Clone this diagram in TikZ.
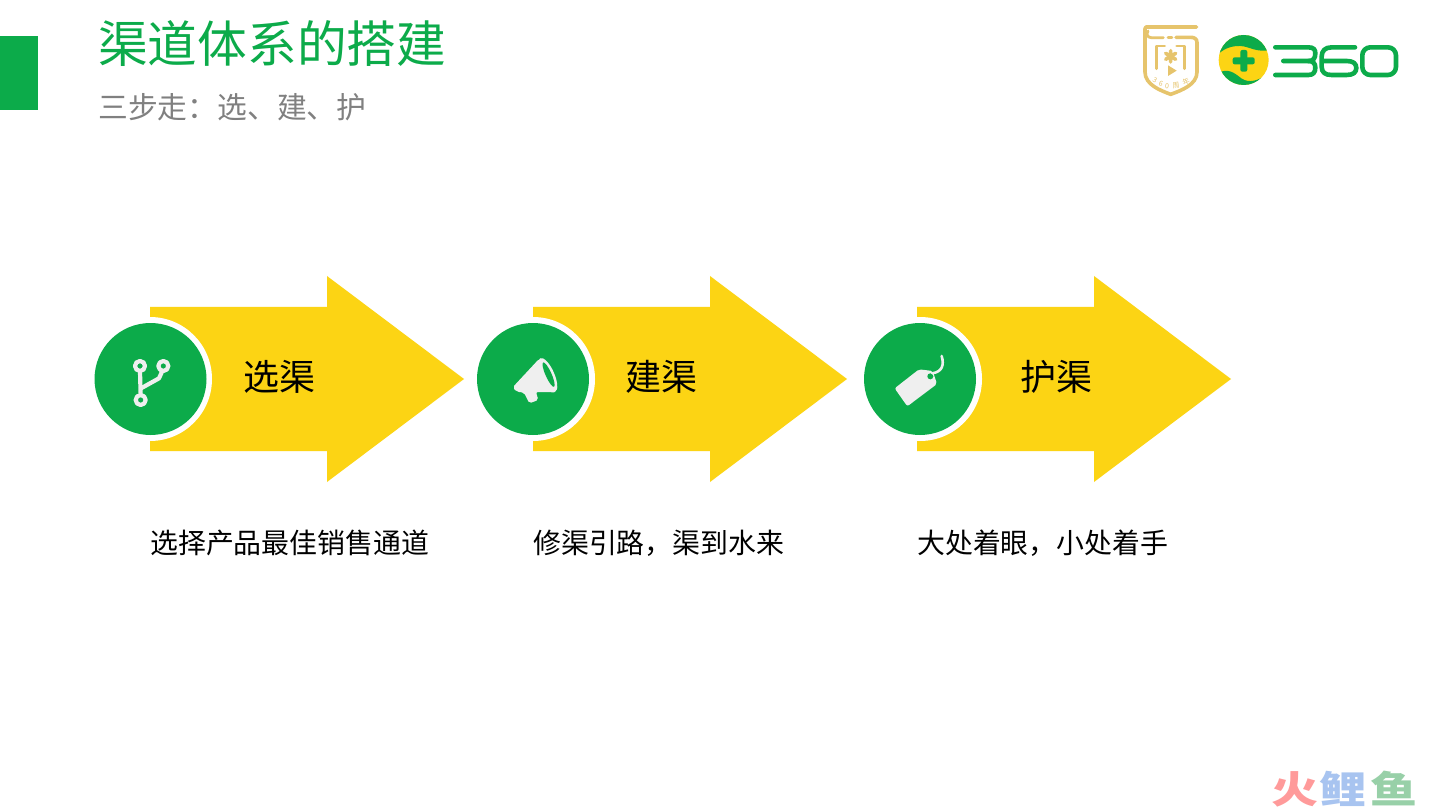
\documentclass[tikz,border=0pt]{standalone}
\usepackage{fontspec}
\setmainfont{Noto Sans CJK SC}
\definecolor{brand}{HTML}{0CAB4A}
\definecolor{sun}{HTML}{FCD414}
\definecolor{gold}{HTML}{E6C46C}
\definecolor{icon}{HTML}{EFEFEF}
\definecolor{wmred}{HTML}{FF9A9A}
\definecolor{wmblue}{HTML}{A8C4F0}
\definecolor{wmgreen}{HTML}{98D0A8}
\tikzset{
  x=1pt,y=-1pt,
  title/.style={anchor=base west,inner sep=0pt,text=brand,font=\fontsize{49.7}{50}\selectfont},
  subtitle/.style={anchor=base west,inner sep=0pt,text=black!50,font=\fontsize{29.8}{30}\selectfont},
  label/.style={anchor=base west,inner sep=0pt,text=black,font=\fontsize{36}{36}\selectfont},
  descr/.style={anchor=base west,inner sep=0pt,text=black,font=\fontsize{27.9}{28}\selectfont},
  wm/.style={anchor=base west,inner sep=0pt,yscale=0.8,font=\fontsize{47}{47}\selectfont\bfseries},
  tiny/.style={inner sep=0pt,text=gold,font=\fontsize{7}{7}\selectfont},
  arrowshape/.style={fill=sun,draw=none},
  ring/.style={fill=white,draw=none},
  disc/.style={fill=brand,draw=none},
  zoomed/.style={x=0.3333pt,y=-0.3333pt},
  logostroke/.style={draw=brand,line width=4.6pt,line cap=round,line join=round},
  goldstroke/.style={draw=gold,line width=3.6pt,line cap=round,line join=round},
  goldthin/.style={draw=gold,line width=2.8pt,line cap=round,line join=round},
  iconline/.style={draw=icon,line width=4.2pt,line cap=round,line join=round}
}
\newcommand{\stagearrow}[1]{%
  \fill[arrowshape] (#1,307) -- (#1+177,307) -- (#1+177,276) -- (#1+314,379) -- (#1+177,482) -- (#1+177,451) -- (#1,451) -- cycle;}
\begin{document}
\begin{tikzpicture}
\useasboundingbox (0,0) rectangle (1440,810);
\fill[white] (0,0) rectangle (1440,810);
\fill[brand] (0,36) rectangle (38,110);
\node[title] (t) at (98,63) {渠道体系的搭建};
\node[subtitle] (s) at (98,119) {三步走：选、建、护};

\stagearrow{150}
\stagearrow{533}
\stagearrow{917}
\fill[ring] (150,379) circle[radius=62];
\fill[disc] (150.5,379) circle[radius=56];
\fill[ring] (533,379) circle[radius=62];
\fill[disc] (533,379) circle[radius=56];
\fill[ring] (920,379) circle[radius=62];
\fill[disc] (920,379) circle[radius=56];

\node[label] (l1) at (243,390) {选渠};
\node[label] (l2) at (625.5,390) {建渠};
\node[label] (l3) at (1020.5,390) {护渠};
\node[descr] (d1) at (150,553) {选择产品最佳销售通道};
\node[descr] (d2) at (533,553) {修渠引路，渠到水来};
\node[descr] (d3) at (917,553) {大处着眼，小处着手};

% branch icon
\begin{scope}[shift={(85,310)},zoomed]
  \draw[iconline] (165,168) circle[radius=15];
  \draw[iconline] (235,168) circle[radius=15];
  \draw[iconline] (167,270) circle[radius=15];
  \draw[iconline] (165,183) -- (167,255);
  \draw[iconline] (232,183) -- (222,205) -- (168,235);
\end{scope}
% megaphone icon
\begin{scope}[shift={(470,310)},zoomed]
  \fill[icon,rounded corners=2pt] (128,232) -- (207,147) -- (258,247) -- (198,246) -- (205,270) -- (178,280) -- (162,248) -- (140,245) -- cycle;
  \fill[icon,rotate around={24:(233,195)}] (233,195) ellipse[x radius=20,y radius=55];
  \fill[brand,rotate around={24:(233,195)}] (236,195) ellipse[x radius=9,y radius=40];
\end{scope}
% tag icon
\begin{scope}[shift={(855,310)},zoomed]
  \fill[icon,rounded corners=2pt] (119,235) -- (192,178) -- (233,183) -- (246,222) -- (157,289) -- cycle;
  \fill[brand] (226,199) circle[radius=9];
  \draw[icon,line width=2.6pt,line cap=round] (232,190) .. controls (262,185) and (268,165) .. (260,138);
\end{scope}

% shield logo
\begin{scope}[shift={(1140,22)},zoomed]
  \draw[goldstroke] (170,15) -- (18,15) .. controls (15,15) and (15,15) .. (15,20) -- (15,150) .. controls (15,188) and (60,205) .. (92,217) .. controls (125,205) and (171,188) .. (171,150) -- (171,62) .. controls (171,50) and (163,46) .. (152,46) -- (108,46);
  \draw[goldthin] (24,27) .. controls (18,36) and (22,47) .. (34,47) -- (70,47);
  \draw[goldthin] (84,47) -- (96,47);
  \draw[goldthin] (74,72) -- (50,72) -- (50,140);
  \draw[goldthin] (110,72) -- (134,72) -- (134,140);
  \draw[goldstroke] (92,86) -- (92,120) (77,94) -- (107,112) (77,112) -- (107,94);
  \fill[gold] (84,130) -- (110,146) -- (84,162) -- cycle;
  \node[tiny,rotate=-28] (sa) at (45,176) {3};
  \node[tiny,rotate=-18] (sb) at (63,186) {6};
  \node[tiny,rotate=-6] (sc) at (81,192) {0};
  \node[tiny,rotate=8] (sd) at (108,191) {周};
  \node[tiny,rotate=24] (se) at (138,179) {年};
\end{scope}

% 360 logo
\begin{scope}[shift={(1212,30)},zoomed]
  \fill[sun] (95,90) circle[radius=75];
  \begin{scope}
    \clip (95,90) circle[radius=75];
    \fill[brand] (15,76) .. controls (35,55) and (60,47) .. (85,48) .. controls (115,50) and (130,68) .. (175,60) -- (175,5) -- (15,5) -- cycle;
    \fill[brand] (15,130) .. controls (50,112) and (68,130) .. (88,145) .. controls (110,160) and (140,155) .. (175,125) -- (175,175) -- (15,175) -- cycle;
  \end{scope}
  \fill[brand,rounded corners=2pt] (85,60) rectangle (106,125);
  \fill[brand,rounded corners=2pt] (62,82) rectangle (128,103);
\end{scope}
\begin{scope}[shift={(1130,15)},zoomed]
  \draw[logostroke] (436,97) -- (535,97) .. controls (552,97) and (556,105) .. (556,115) .. controls (556,130) and (550,138) .. (535,138) -- (460,138);
  \draw[logostroke] (535,138) .. controls (550,138) and (556,146) .. (556,158) .. controls (556,172) and (550,180) .. (535,180) -- (436,180);
  \draw[logostroke] (675,97) -- (605,97) .. controls (585,97) and (575,108) .. (575,125) -- (575,155) .. controls (575,172) and (585,180) .. (605,180) -- (650,180) .. controls (670,180) and (679,172) .. (679,159) .. controls (679,146) and (670,138) .. (650,138) -- (577,138);
  \draw[logostroke,rounded corners=8pt] (697,97) rectangle (798,180);
\end{scope}

% watermark
\node[wm,text=wmred] (w1) at (1271,803) {火};
\node[wm,text=wmblue] (w2) at (1319,803) {鲤};
\node[wm,text=wmgreen] (w3) at (1370,803) {鱼};
\end{tikzpicture}
\end{document}
